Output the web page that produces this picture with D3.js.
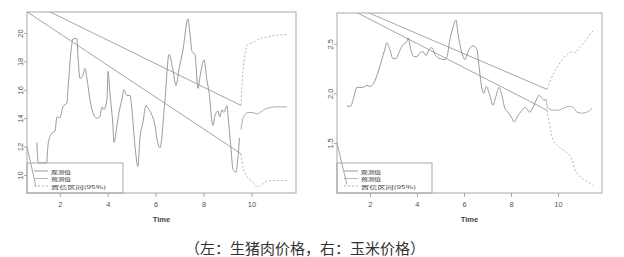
<!DOCTYPE html>
<html>
<head>
<meta charset="utf-8">
<script src="https://cdn.jsdelivr.net/npm/d3@7"></script>
<style>
  body { margin: 0; background: #fff; }
  svg { display: block; }
</style>
</head>
<body>
<div id="chart"></div>
<script>
// ---- data: [time, value] ----
const xTicks = [2, 4, 6, 8, 10];
const porkTicks = [10, 12, 14, 16, 18, 20];
const cornTicks = [1.5, 2.0, 2.5];
const legendLabels = ["观测值", "预测值", "置信区间(95%)"];
const caption = "（左：生猪肉价格，右：玉米价格）";

const porkObserved = [
  [1.04, 12.3], [1.1, 10.85], [1.45, 10.85], [1.5, 12.0], [1.59, 12.7], [1.71, 13.0],
  [1.8, 13.1], [1.88, 14.1], [2.0, 14.0], [2.13, 14.8], [2.3, 15.1], [2.34, 16.0],
  [2.46, 18.6], [2.55, 19.6], [2.71, 19.6], [2.76, 18.3], [2.84, 16.8], [2.96, 17.0],
  [3.05, 17.5], [3.13, 16.8], [3.26, 15.3], [3.38, 14.4], [3.55, 14.0], [3.67, 14.1],
  [3.76, 14.8], [3.84, 14.6], [3.97, 15.3], [4.01, 17.3], [4.09, 15.8], [4.22, 13.4],
  [4.26, 12.3], [4.38, 13.4], [4.47, 14.4], [4.59, 15.3], [4.68, 16.0], [4.8, 15.6],
  [4.93, 15.6], [5.01, 14.6], [5.14, 12.0], [5.26, 10.6], [5.34, 12.5], [5.47, 13.7],
  [5.6, 14.9], [5.68, 14.7], [5.85, 14.2], [5.97, 13.5], [6.05, 12.6], [6.18, 11.9],
  [6.39, 15.3], [6.56, 18.5], [6.72, 17.4], [6.85, 16.3], [6.97, 17.4], [7.14, 18.8],
  [7.35, 21.0], [7.43, 20.0], [7.52, 18.7], [7.64, 18.5], [7.77, 16.1], [7.85, 16.9],
  [8.02, 18.1], [8.14, 16.7], [8.23, 15.8], [8.39, 13.5], [8.48, 14.2], [8.6, 14.5],
  [8.68, 14.1], [8.77, 14.6], [8.85, 14.4], [8.98, 14.9], [9.02, 14.2], [9.14, 12.0],
  [9.23, 10.4], [9.35, 10.2], [9.44, 11.3], [9.5, 12.6]
];
const porkForecast = [
  [9.56, 13.2], [9.65, 14.0], [9.85, 14.4], [10.06, 14.4], [10.23, 14.3],
  [10.35, 14.4], [10.65, 14.7], [11.06, 14.8], [11.48, 14.8]
];
const porkUpper = [
  [9.56, 14.9], [9.65, 17.3], [9.73, 18.5], [9.85, 19.2], [10.02, 19.3], [10.14, 19.4],
  [10.35, 19.6], [10.65, 19.7], [10.9, 19.8], [11.48, 19.9]
];
const porkLower = [
  [9.56, 11.5], [9.65, 10.5], [9.81, 9.9], [10.06, 9.5], [10.27, 9.15], [10.48, 9.4],
  [10.77, 9.6], [11.19, 9.6], [11.48, 9.6]
];
const porkStray = [
  [[0, 22.8], [9.56, 14.9]],
  [[0, 22.2], [9.56, 11.5]],
  [[0.5, 13.0], [1.0, 9.2]]
];

const cornObserved = [
  [1.02, 1.87], [1.19, 1.87], [1.28, 1.93], [1.45, 2.06], [1.57, 2.06], [1.7, 2.06],
  [1.87, 2.08], [2.0, 2.07], [2.13, 2.09], [2.3, 2.18], [2.47, 2.31], [2.64, 2.45],
  [2.72, 2.51], [2.85, 2.44], [2.98, 2.35], [3.11, 2.35], [3.23, 2.41], [3.4, 2.49],
  [3.57, 2.52], [3.62, 2.56], [3.74, 2.44], [3.87, 2.37], [4.0, 2.37], [4.13, 2.41],
  [4.26, 2.42], [4.38, 2.38], [4.51, 2.44], [4.64, 2.46], [4.77, 2.39], [4.98, 2.35],
  [5.19, 2.34], [5.28, 2.37], [5.4, 2.54], [5.53, 2.66], [5.66, 2.74], [5.74, 2.61],
  [5.91, 2.41], [6.04, 2.34], [6.17, 2.42], [6.38, 2.48], [6.55, 2.44], [6.64, 2.27],
  [6.77, 2.04], [6.85, 2.0], [6.94, 2.07], [7.11, 1.97], [7.23, 1.88], [7.36, 1.97],
  [7.49, 2.06], [7.62, 1.97], [7.74, 1.85], [7.87, 1.81], [8.04, 1.75], [8.13, 1.71],
  [8.26, 1.76], [8.47, 1.83], [8.6, 1.86], [8.81, 1.81], [8.94, 1.86], [9.11, 1.95],
  [9.19, 1.98], [9.32, 1.95], [9.4, 1.93], [9.49, 1.94]
];
const cornForecast = [
  [9.49, 1.94], [9.57, 1.85], [9.79, 1.83], [10.0, 1.83], [10.21, 1.85], [10.51, 1.87],
  [10.64, 1.86], [10.81, 1.81], [11.02, 1.8], [11.23, 1.81], [11.45, 1.85]
];
const cornUpper = [
  [9.53, 2.04], [9.79, 2.19], [10.09, 2.31], [10.38, 2.39], [10.6, 2.42], [10.72, 2.41],
  [10.94, 2.47], [11.15, 2.52], [11.28, 2.57], [11.49, 2.63]
];
const cornLower = [
  [9.53, 1.83], [9.66, 1.66], [9.79, 1.53], [10.09, 1.45], [10.38, 1.4], [10.6, 1.33],
  [10.72, 1.23], [10.94, 1.16], [11.23, 1.11], [11.49, 1.08]
];
const cornStray = [
  [[0, 3.01], [9.53, 2.04]],
  [[0, 2.99], [9.53, 1.83]],
  [[0.5, 1.6], [1.02, 1.08]]
];

// ---- drawing ----
const W = 624, H = 257;
const svg = d3.select("#chart").append("svg")
  .attr("width", W).attr("height", H)
  .style("background", "#fff");

const axisCol = "#a8a8a8";
const textCol = "#555";
const latin = "'Liberation Sans', Arial, sans-serif";
const cjk = "'Noto Sans CJK SC', 'Noto Sans', sans-serif";

function panel(id, box, xDom, yDom, yTicks, fmt, series) {
  const x = d3.scaleLinear().domain(xDom).range([box.l, box.r]);
  const y = d3.scaleLinear().domain(yDom).range([box.b, box.t]);
  const g = svg.append("g");

  g.append("clipPath").attr("id", "clip" + id)
    .append("rect").attr("x", box.l).attr("y", box.t)
    .attr("width", box.r - box.l).attr("height", box.b - box.t);

  const plot = g.append("g").attr("clip-path", `url(#clip${id})`);
  const line = d3.line().x(d => x(d[0])).y(d => y(d[1])).curve(d3.curveMonotoneX);
  const straight = d3.line().x(d => x(d[0])).y(d => y(d[1]));

  series.stray.forEach(s => {
    plot.append("path").attr("d", straight(s))
      .attr("fill", "none").attr("stroke", "#9c9c9c").attr("stroke-width", 0.9);
  });
  plot.append("path").attr("d", line(series.obs))
    .attr("fill", "none").attr("stroke", "#8e8e8e").attr("stroke-width", 0.9);
  plot.append("path").attr("d", line(series.fc))
    .attr("fill", "none").attr("stroke", "#a4a4a4").attr("stroke-width", 0.9);
  [series.up, series.lo].forEach(s => {
    plot.append("path").attr("d", line(s))
      .attr("fill", "none").attr("stroke", "#aaaaaa").attr("stroke-width", 0.9)
      .attr("stroke-dasharray", "2,2");
  });

  // box
  g.append("rect").attr("x", box.l).attr("y", box.t)
    .attr("width", box.r - box.l).attr("height", box.b - box.t)
    .attr("fill", "none").attr("stroke", axisCol).attr("stroke-width", 1);

  // x axis
  const xa = g.append("g").attr("transform", `translate(0,${box.b})`)
    .call(d3.axisBottom(x).tickValues(xTicks).tickSize(4).tickPadding(5).tickFormat(d3.format("d")));
  xa.select(".domain").remove();
  xa.selectAll("line").attr("stroke", axisCol);
  xa.selectAll("text").attr("fill", textCol).style("font-family", latin).style("font-size", "7.5px");

  // y axis
  const ya = g.append("g").attr("transform", `translate(${box.l},0)`)
    .call(d3.axisLeft(y).tickValues(yTicks).tickSize(3).tickFormat(fmt));
  ya.select(".domain").remove();
  ya.selectAll("line").attr("stroke", axisCol);
  ya.selectAll("text")
    .attr("x", null).attr("dy", null)
    .attr("text-anchor", "middle")
    .attr("transform", "translate(-7,0) rotate(-90)")
    .attr("dominant-baseline", "central")
    .attr("fill", textCol).style("font-family", latin).style("font-size", "7.5px");

  // x title
  g.append("text").attr("x", (box.l + box.r) / 2).attr("y", 219)
    .attr("text-anchor", "middle").attr("dominant-baseline", "central")
    .attr("fill", "#444").style("font-family", latin).style("font-size", "7.5px")
    .style("font-weight", "bold").text("Time");

  // legend
  const lg = g.append("g");
  lg.append("rect").attr("x", box.l).attr("y", 163)
    .attr("width", box.legendW).attr("height", box.b - 163)
    .attr("fill", "none").attr("stroke", axisCol).attr("stroke-width", 1);
  const rowsY = [171, 178.5, 186];
  const rowCol = ["#8e8e8e", "#b0b0b0", "#aaaaaa"];
  const rowDash = [null, null, "2,2"];
  const rowLen = [20, 20, 55];
  legendLabels.forEach((lab, i) => {
    lg.append("line").attr("x1", box.l + 7).attr("x2", box.l + 21)
      .attr("y1", rowsY[i]).attr("y2", rowsY[i])
      .attr("stroke", rowCol[i]).attr("stroke-width", 0.9)
      .attr("stroke-dasharray", rowDash[i]);
    lg.append("text").attr("x", box.l + 24).attr("y", rowsY[i])
      .attr("dominant-baseline", "central").attr("fill", "#333")
      .attr("textLength", rowLen[i]).attr("lengthAdjust", "spacingAndGlyphs")
      .style("font-family", cjk).style("font-size", "5px").text(lab);
  });
}

panel("L", { l: 27, r: 296, t: 12, b: 193, legendW: 96 },
  [0.63, 11.86], [8.73, 21.48], porkTicks, d3.format("d"),
  { obs: porkObserved, fc: porkForecast, up: porkUpper, lo: porkLower, stray: porkStray });

panel("R", { l: 337, r: 602, t: 13, b: 193, legendW: 95 },
  [0.6, 11.87], [0.995, 2.81], cornTicks, d3.format(".1f"),
  { obs: cornObserved, fc: cornForecast, up: cornUpper, lo: cornLower, stray: cornStray });

svg.append("text").attr("x", 305).attr("y", 247)
  .attr("text-anchor", "middle").attr("dominant-baseline", "central")
  .attr("fill", "#333").style("font-family", cjk).style("font-size", "15px")
  .text(caption);
</script>
</body>
</html>
